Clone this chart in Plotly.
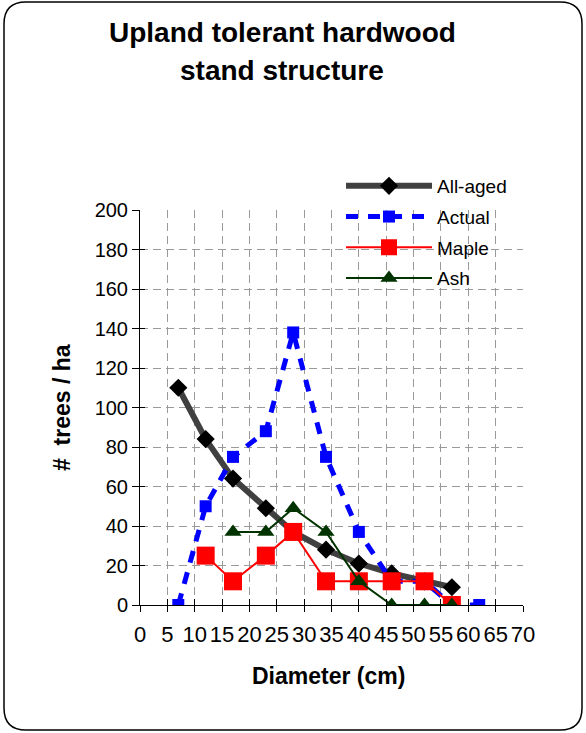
import plotly.graph_objects as go

# ---- data ----
diameter = [7, 12, 17, 23, 28, 34, 40, 46, 52, 57, 62]
all_aged = [110, 84, 64, 49, 37, 28, 21, 16, 12, 9, None]
actual = [0, 50, 75, 88, 138, 75, 37, 12, 12, 0, 0]
maple = [None, 25, 12, 25, 37, 12, 12, 12, 12, 0, None]
ash = [None, None, 37, 37, 49, 37, 12, 0, 0, 0, None]

x_ticks = list(range(0, 75, 5))
y_ticks = list(range(0, 220, 20))
title_lines = ["Upland tolerant hardwood", "stand structure"]

W, H = 586, 733
L, R, T, B = 140, 523, 210, 605  # plot area pixels


def px(v):
    return (v - L) / (R - L)


def py(v):
    return (B - v) / (B - T)


FONT = "Liberation Sans, Arial, sans-serif"

fig = go.Figure()

fig.add_trace(go.Scatter(
    x=diameter, y=all_aged, name="All-aged", mode="lines+markers",
    line=dict(color="#404040", width=6),
    marker=dict(symbol="diamond", size=14, color="black"),
    legendgroup="a",
))
fig.add_trace(go.Scatter(
    x=diameter, y=actual, name="Actual", mode="lines+markers",
    line=dict(color="#0000FF", width=5, dash="12px,10px"),
    marker=dict(symbol="square", size=12, color="#0000FF"),
    legendgroup="b",
))
fig.add_trace(go.Scatter(
    x=diameter, y=maple, name="Maple", mode="lines+markers",
    line=dict(color="#FF0000", width=2),
    marker=dict(symbol="square", size=18, color="#FF0000"),
    legendgroup="c",
))
fig.add_trace(go.Scatter(
    x=diameter, y=ash, name="Ash", mode="lines+markers",
    line=dict(color="#003300", width=2),
    marker=dict(symbol="triangle-up", size=15, color="#003300"),
    legendgroup="d",
))
# helper invisible traces so the overlay axes (inside tick halves) are drawn
fig.add_trace(go.Scatter(x=[0], y=[0], xaxis="x2", yaxis="y", mode="markers",
                         marker=dict(size=1, opacity=0), showlegend=False,
                         hoverinfo="skip"))
fig.add_trace(go.Scatter(x=[0], y=[0], xaxis="x", yaxis="y2", mode="markers",
                         marker=dict(size=1, opacity=0), showlegend=False,
                         hoverinfo="skip"))

grid = dict(showgrid=True, gridcolor="#9a9a9a", gridwidth=1, griddash="8px,5px")

fig.update_layout(
    width=W, height=H,
    margin=dict(l=L, r=W - R, t=T, b=H - B, pad=0),
    paper_bgcolor="white", plot_bgcolor="white",
    font=dict(family=FONT, color="black"),
    showlegend=True,
    legend=dict(
        x=px(341), y=py(167), xanchor="left", yanchor="top",
        xref="paper", yref="paper",
        font=dict(size=19, family=FONT),
        itemwidth=86, tracegroupgap=3, traceorder="grouped",
        bgcolor="rgba(0,0,0,0)",
    ),
    xaxis=dict(
        range=[0, 70], tickvals=x_ticks, ticktext=[str(v) for v in x_ticks],
        ticks="outside", ticklen=6, tickcolor="black", tickwidth=1,
        showline=True, linecolor="black", linewidth=1, ticklabelstandoff=4,
        tickfont=dict(size=22, family=FONT), zeroline=False, **grid,
    ),
    yaxis=dict(
        range=[0, 200], tickvals=y_ticks, ticktext=[str(v) for v in y_ticks],
        ticks="outside", ticklen=7, tickcolor="black", tickwidth=1,
        showline=True, linecolor="black", linewidth=1,
        tickfont=dict(size=20, family=FONT), zeroline=False, **grid,
    ),
    xaxis2=dict(
        range=[0, 70], tickvals=x_ticks, overlaying="x", anchor="y", side="bottom",
        ticks="inside", ticklen=6, tickcolor="black", showticklabels=False,
        showgrid=False, showline=False, zeroline=False,
    ),
    yaxis2=dict(
        range=[0, 200], tickvals=y_ticks, overlaying="y", anchor="x", side="left",
        ticks="inside", ticklen=5, tickcolor="black", showticklabels=False,
        showgrid=False, showline=False, zeroline=False,
    ),
)

# title (two lines placed separately for Excel-like line spacing)
for line, yc in zip(title_lines, [32, 71]):
    fig.add_annotation(
        text=f"<b>{line}</b>",
        xref="paper", yref="paper", x=px(282), y=py(yc),
        xanchor="center", yanchor="middle", showarrow=False,
        font=dict(size=28, family=FONT, color="black"),
    )
# axis titles
fig.add_annotation(
    text="<b>Diameter (cm)</b>", xref="paper", yref="paper",
    x=px(328), y=py(676), xanchor="center", yanchor="middle", showarrow=False,
    font=dict(size=23, family=FONT, color="black"),
)
fig.add_annotation(
    text="<b>#  trees / ha</b>", xref="paper", yref="paper",
    x=px(62), y=py(408), xanchor="center", yanchor="middle", showarrow=False,
    textangle=-90, font=dict(size=23, family=FONT, color="black"),
)

# rounded chart border
x0, x1, y0, y1, r = 4, 582, 2, 730, 22
path = (
    f"M {px(x0 + r)} {py(y0)} L {px(x1 - r)} {py(y0)} "
    f"Q {px(x1)} {py(y0)} {px(x1)} {py(y0 + r)} "
    f"L {px(x1)} {py(y1 - r)} Q {px(x1)} {py(y1)} {px(x1 - r)} {py(y1)} "
    f"L {px(x0 + r)} {py(y1)} Q {px(x0)} {py(y1)} {px(x0)} {py(y1 - r)} "
    f"L {px(x0)} {py(y0 + r)} Q {px(x0)} {py(y0)} {px(x0 + r)} {py(y0)} Z"
)
fig.add_shape(type="path", path=path, xref="paper", yref="paper",
              line=dict(color="black", width=1.5), layer="below")

fig.write_html(
    "out.html",
    config={"displayModeBar": False},
    post_script="document.body.style.margin='0';document.body.style.overflow='hidden';",
)
